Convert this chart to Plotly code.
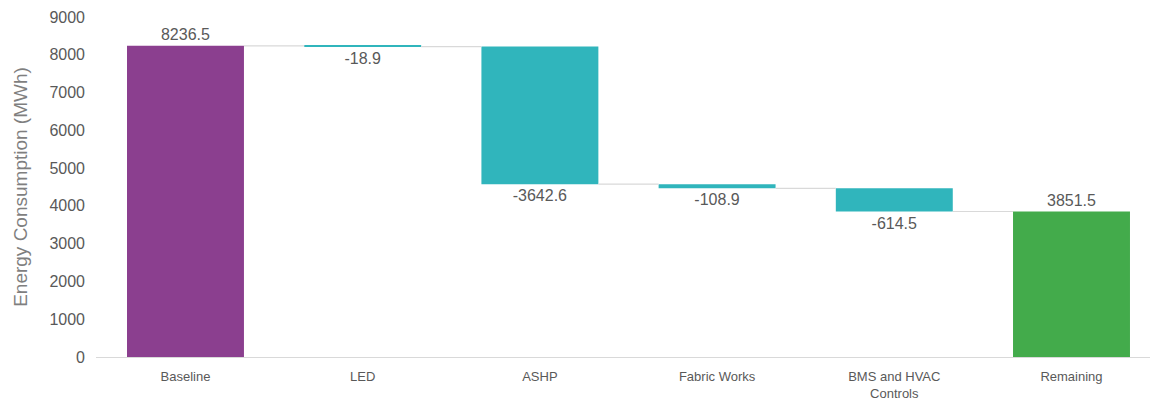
import plotly.graph_objects as go

categories = ["Baseline", "LED", "ASHP", "Fabric Works", "BMS and HVAC<br>Controls", "Remaining"]
values = [8236.5, -18.9, -3642.6, -108.9, -614.5, 3851.5]
kinds = ["absolute", "relative", "relative", "relative", "relative", "total"]
labels = ["8236.5", "-18.9", "-3642.6", "-108.9", "-614.5", "3851.5"]
colors = {"absolute": "#8B3F8F", "relative": "#30B5BC", "total": "#43AB4B"}

bar_w = 0.66
x = list(range(len(categories)))
bases, heights, ends = [], [], []
running = 0.0
for v, k in zip(values, kinds):
    if k == "absolute":
        bases.append(0); heights.append(v); running = v
    elif k == "total":
        bases.append(0); heights.append(running)
    else:
        bases.append(running); heights.append(v); running += v
    ends.append(running)

fig = go.Figure()

# connectors
cx, cy = [], []
for i in range(len(x) - 1):
    cx += [x[i] + bar_w / 2, x[i + 1] - bar_w / 2, None]
    cy += [ends[i], ends[i], None]
fig.add_trace(go.Scatter(x=cx, y=cy, mode="lines",
                         line=dict(color="#d9d9d9", width=1.2),
                         hoverinfo="skip", showlegend=False))

fig.add_trace(go.Bar(
    x=x, y=heights, base=bases, width=bar_w,
    marker=dict(color=[colors[k] for k in kinds], line=dict(width=0)),
    text=labels, textposition="outside", cliponaxis=False,
    textfont=dict(size=16, color="#595959", family="Liberation Sans, Arial"),
    showlegend=False,
))

fig.update_layout(
    width=1150, height=403,
    margin=dict(l=96, r=0, t=17, b=46),
    paper_bgcolor="white", plot_bgcolor="white",
    font=dict(family="Liberation Sans, Arial", color="#595959"),
    xaxis=dict(tickmode="array", tickvals=x, ticktext=categories,
               range=[-0.505, 5.443], showgrid=False, zeroline=False,
               showline=False, ticklabelstandoff=10, automargin=False,
               tickfont=dict(size=13, color="#595959")),
    yaxis=dict(range=[0, 9000], dtick=1000, showgrid=False, zeroline=True,
               zerolinecolor="#d9d9d9", zerolinewidth=1.2, showline=False,
               automargin=False,
               tickfont=dict(size=16, color="#595959"), ticklabelstandoff=10,
               title=dict(text="Energy Consumption (MWh)",
                          font=dict(size=19, color="#7f7f7f"), standoff=16)),
)

fig.write_html("out.html")
